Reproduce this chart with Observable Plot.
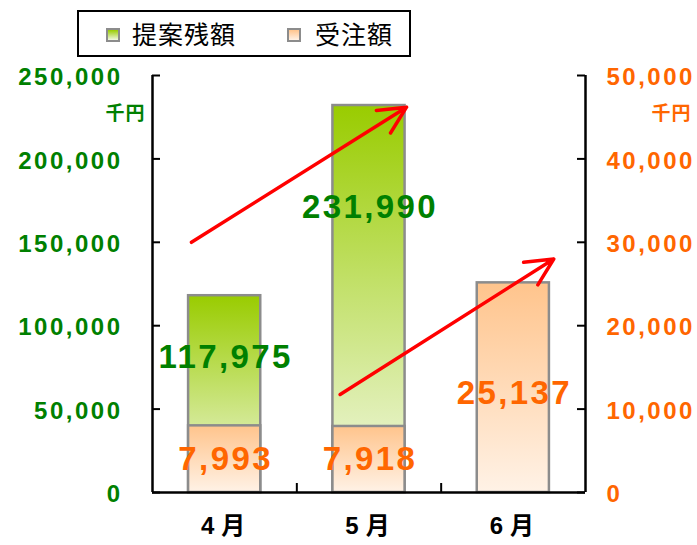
<!DOCTYPE html>
<html><head><meta charset="utf-8">
<script src="https://cdn.jsdelivr.net/npm/d3@7"></script>
<script src="https://cdn.jsdelivr.net/npm/@observablehq/plot@0.6"></script>
<style>
body{margin:0;background:#fff;}
#wrap{position:relative;width:697px;height:545px;overflow:hidden;}
#legend{position:absolute;left:77px;top:10px;width:334px;height:47px;border:2px solid #000;box-sizing:border-box;background:#fff;font-family:"Noto Sans CJK JP",sans-serif;}
#legend .sw{position:absolute;top:16px;width:10px;height:10px;border:2px solid #8c8c8c;}
#legend .lb{position:absolute;top:4px;font-size:25px;line-height:34px;letter-spacing:1px;color:#000;}
</style></head><body>
<div id="wrap"><div id="chart"></div><div id="legend"></div></div>
<script>
// ---- data ----
const months = ["4月", "5月", "6月"];
const proposalBalance = [117975, 231990, null]; // 提案残額 (千円, left axis)
const orders = [7993, 7918, 25137];             // 受注額 (千円, right axis)
const leftTicks = [0, 50000, 100000, 150000, 200000, 250000];
const rightTicks = [0, 10000, 20000, 30000, 40000, 50000];
const seriesNames = ["提案残額", "受注額"];
const unitLabel = "千円";
// label anchors (value units of each series' own axis)
const proposalLabelAt = [81000, 171000, null];
const ordersLabelAt = [4000, 4000, 11900];
// trend arrows: [month index, offset within band, value, axis]
const arrowStarts = [{m: 0, off: -0.23, v: 150000, axis: "L"}, {m: 1, off: -0.20, v: 11750, axis: "R"}];
const arrowEnds   = [{m: 1, off: 0.26, v: 231000, axis: "L"}, {m: 2, off: 0.28, v: 28000, axis: "R"}];

const ratio = leftTicks[leftTicks.length - 1] / rightTicks[rightTicks.length - 1];
const toLeft = (v, axis) => axis === "R" ? v * ratio : v;

const green = "#008000", orange = "#ff6600";
const fmt = d3.format(",");

const greenBars = months.map((m, i) => ({i, m, v: proposalBalance[i], ly: proposalLabelAt[i]})).filter(d => d.v != null);
const orangeBars = months.map((m, i) => ({i, m, v: orders[i], ly: ordersLabelAt[i]}));
const arrows = arrowStarts.map((s, k) => ({
  x1: s.m + s.off, y1: toLeft(s.v, s.axis),
  x2: arrowEnds[k].m + arrowEnds[k].off, y2: toLeft(arrowEnds[k].v, arrowEnds[k].axis)
}));

const W = 697, H = 545, mL = 152, mR = 112, mT = 75, mB = 53;
const innerW = W - mL - mR, innerH = H - mT - mB;

function defs() {
  const d = d3.create("svg:defs");
  const g1 = d.append("linearGradient").attr("id", "gGreen").attr("x1", 0).attr("y1", 0).attr("x2", 0).attr("y2", 1);
  g1.append("stop").attr("offset", "0%").attr("stop-color", "#99cc00");
  g1.append("stop").attr("offset", "100%").attr("stop-color", "#f2f8e4");
  const g2 = d.append("linearGradient").attr("id", "gOrange").attr("x1", 0).attr("y1", 0).attr("x2", 0).attr("y2", 1);
  g2.append("stop").attr("offset", "0%").attr("stop-color", "#ffc48c");
  g2.append("stop").attr("offset", "100%").attr("stop-color", "#fff2e6");
  return d.node();
}

const numFont = "Liberation Sans, Arial, sans-serif";
const cjkFont = "Noto Sans CJK JP, sans-serif";

const chart = Plot.plot({
  width: W, height: H,
  marginLeft: mL, marginRight: mR, marginTop: mT, marginBottom: mB,
  x: {type: "linear", domain: [-0.5, months.length - 0.5], axis: null},
  y: {domain: [0, leftTicks[leftTicks.length - 1]], axis: null},
  style: {background: "#fff", overflow: "visible"},
  marks: [
    defs,
    Plot.rect(greenBars, {x1: d => d.i - 0.25, x2: d => d.i + 0.25, y1: 0, y2: "v", fill: "url(#gGreen)", stroke: "#8c8c8c", strokeWidth: 2.5}),
    Plot.rect(orangeBars, {x1: d => d.i - 0.25, x2: d => d.i + 0.25, y1: 0, y2: d => d.v * ratio, fill: "url(#gOrange)", stroke: "#8c8c8c", strokeWidth: 2.5}),
    // axes lines
    Plot.ruleX([-0.5, months.length - 0.5], {stroke: "#000", strokeWidth: 2.5}),
    Plot.ruleY([0], {stroke: "#000", strokeWidth: 2.5}),
    Plot.tickY(leftTicks, {y: d => d, insetRight: innerW - 8, stroke: "#000", strokeWidth: 2}),
    Plot.tickY(rightTicks, {y: d => d * ratio, insetLeft: innerW - 8, stroke: "#000", strokeWidth: 2}),
    Plot.tickX(d3.range(1, months.length).map(i => i - 0.5), {x: d => d, insetTop: innerH - 9, stroke: "#000", strokeWidth: 2}),
    // tick labels
    Plot.text(leftTicks, {y: d => d, frameAnchor: "left", dx: -30, dy: 2, textAnchor: "end", text: d => fmt(d), fill: green, fontSize: 24, fontWeight: "bold", fontFamily: numFont, ariaDescription: "ticklab"}),
    Plot.text(rightTicks, {y: d => d * ratio, frameAnchor: "right", dx: 21, dy: 2, textAnchor: "start", text: d => fmt(d), fill: orange, fontSize: 24, fontWeight: "bold", fontFamily: numFont, ariaDescription: "ticklab"}),
    Plot.text([unitLabel], {frameAnchor: "top-left", dx: -7, dy: 31, textAnchor: "end", fill: green, fontSize: 19, fontWeight: "bold", fontFamily: cjkFont, ariaDescription: "unit"}),
    Plot.text([unitLabel], {frameAnchor: "top-right", dx: 106, dy: 31, textAnchor: "end", fill: orange, fontSize: 19, fontWeight: "bold", fontFamily: cjkFont, ariaDescription: "unit"}),
    Plot.text(months, {x: (d, i) => i, frameAnchor: "bottom", dy: 41, dx: 2, text: d => d, fill: "#000", fontSize: 24, fontWeight: "bold", fontFamily: numFont + ", Noto Sans CJK JP", ariaDescription: "xlab"}),
    // arrows
    Plot.arrow(arrows, {x1: "x1", y1: "y1", x2: "x2", y2: "y2", stroke: "#ff0000", strokeWidth: 3.5, headLength: 13, headAngle: 52}),
    // value labels
    Plot.text(greenBars, {x: d => d.i, y: "ly", text: d => fmt(d.v), fill: green, fontSize: 33, fontWeight: "bold", fontFamily: numFont, dx: 1, ariaDescription: "vlab"}),
    Plot.text(orangeBars, {x: d => d.i, y: d => d.ly * ratio, text: d => fmt(d.v), fill: orange, fontSize: 33, fontWeight: "bold", fontFamily: numFont, dx: 1, ariaDescription: "vlab"})
  ]
});
const s = d3.select(chart);
s.selectAll('g[aria-description="ticklab"] text').attr("letter-spacing", "2.5px");
s.selectAll('g[aria-description="vlab"] text').attr("letter-spacing", "2.4px");
s.selectAll('g[aria-description="xlab"] text').attr("letter-spacing", "7px");
s.selectAll('g[aria-description="unit"] text').attr("letter-spacing", "1px");
document.getElementById("chart").appendChild(chart);

// legend
const lg = d3.select("#legend");
const items = [{name: seriesNames[0], grad: "linear-gradient(#99cc00,#f2f8e4)", sx: 27, tx: 53},
               {name: seriesNames[1], grad: "linear-gradient(#ffc48c,#fff2e6)", sx: 208, tx: 236}];
items.forEach(it => {
  lg.append("div").attr("class", "sw").style("left", it.sx + "px").style("background", it.grad);
  lg.append("div").attr("class", "lb").style("left", it.tx + "px").text(it.name);
});
</script>
</body></html>
